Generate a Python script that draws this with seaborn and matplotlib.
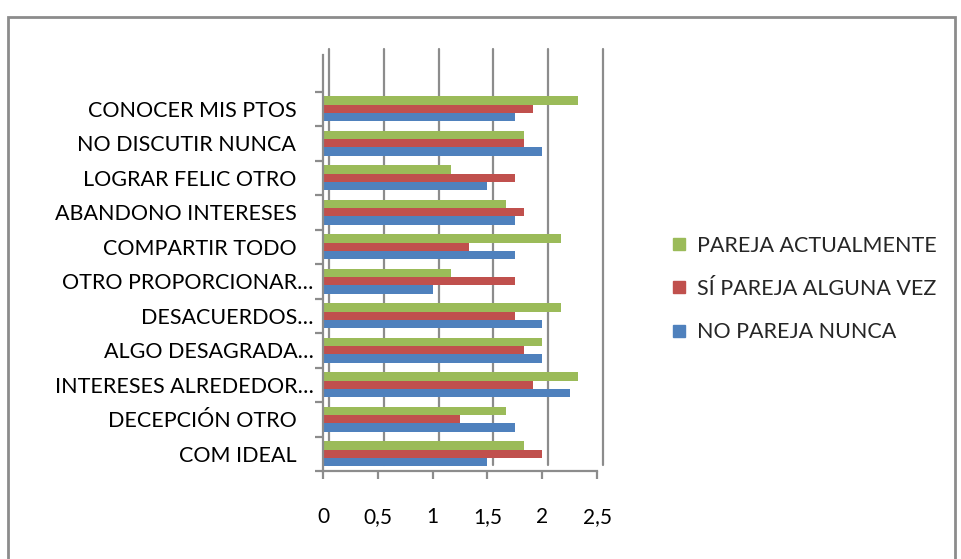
import matplotlib
matplotlib.use("Agg")
import matplotlib.pyplot as plt
import matplotlib.transforms as mtransforms
from matplotlib.patches import Rectangle
from matplotlib.lines import Line2D
import seaborn as sns
import pandas as pd

categories = ["CONOCER MIS PTOS", "NO DISCUTIR NUNCA", "LOGRAR FELIC OTRO",
              "ABANDONO INTERESES", "COMPARTIR TODO", "OTRO PROPORCIONAR…",
              "DESACUERDOS…", "ALGO DESAGRADA…", "INTERESES ALREDEDOR…",
              "DECEPCIÓN OTRO", "COM IDEAL"]
series = ["PAREJA ACTUALMENTE", "SÍ PAREJA ALGUNA VEZ", "NO PAREJA NUNCA"]
pareja_actualmente = [2.33, 1.83, 1.17, 1.67, 2.17, 1.17, 2.17, 2.0, 2.33, 1.67, 1.83]
si_pareja_alguna_vez = [1.92, 1.83, 1.75, 1.83, 1.33, 1.75, 1.75, 1.83, 1.92, 1.25, 2.0]
no_pareja_nunca = [1.75, 2.0, 1.5, 1.75, 1.75, 1.0, 2.0, 2.0, 2.25, 1.75, 1.5]
x_ticks = [0, 0.5, 1, 1.5, 2, 2.5]
x_ticklabels = ["0", "0,5", "1", "1,5", "2", "2,5"]
colors = ["#9BBB59", "#C0504D", "#4F81BD"]

rows = []
for s, vals in zip(series, [pareja_actualmente, si_pareja_alguna_vez, no_pareja_nunca]):
    for c, v in zip(categories, vals):
        rows.append({"cat": c, "serie": s, "val": v})
df = pd.DataFrame(rows)

sns.set_theme(style="white")
plt.rcParams['font.family'] = ['Lato', 'DejaVu Sans']

W, H = 961, 559
fig = plt.figure(figsize=(W / 100, H / 100), dpi=100)
fig.patch.set_facecolor("white")

def px(x0, y0, x1, y1):
    return [x0 / W, 1 - y1 / H, (x1 - x0) / W, (y1 - y0) / H]

ax = fig.add_axes(px(323, 55, 597, 471))
sns.barplot(data=df, y="cat", x="val", hue="serie", order=categories,
            hue_order=series, palette=colors, orient="h", width=0.72,
            saturation=1, ax=ax, legend=False, edgecolor="none")

ax.set_xlim(0, 2.5)
ax.set_ylim(len(categories) - 0.5, -1.56)
ax.set_xticks(x_ticks)
ax.set_xticklabels(x_ticklabels, fontsize=15)
ax.set_yticks(range(len(categories)))
ax.set_yticklabels(categories, fontsize=15.5)
ax.set_xlabel("")
ax.set_ylabel("")

# gridlines (back wall, offset 3D)
off = mtransforms.ScaledTranslation(6 / 100, 6 / 100, fig.dpi_scale_trans)
for xv in x_ticks:
    ax.plot([xv, xv], [len(categories) - 0.5, -1.56], color="#8c8c8c", lw=1.6,
            transform=ax.transData + off, zorder=0, clip_on=False)

for sp in ["top", "right"]:
    ax.spines[sp].set_visible(False)
for sp in ["left", "bottom"]:
    ax.spines[sp].set_color("#8c8c8c")
    ax.spines[sp].set_linewidth(1.6)

ax.tick_params(axis="y", which="major", left=False, length=0, pad=7)
ax.tick_params(axis="x", which="major", bottom=True, length=6, width=1.6,
               color="#8c8c8c", pad=20, direction="out")
ax.set_yticks([i + 0.5 for i in range(-1, len(categories))], minor=True)
ax.tick_params(axis="y", which="minor", left=True, length=6, width=1.6,
               color="#8c8c8c", direction="out")

# shift non-truncated labels left
shift = mtransforms.ScaledTranslation(-17 / 100, 0, fig.dpi_scale_trans)
for lab in ax.get_yticklabels():
    if not lab.get_text().endswith("…"):
        lab.set_transform(lab.get_transform() + shift)
    lab.set_color("black")
for lab in ax.get_xticklabels():
    lab.set_color("black")

handles = [Line2D([], [], marker="s", linestyle="none", markersize=9,
                  markerfacecolor=c, markeredgecolor=c) for c in colors]
fig.legend(handles, series, loc="upper left",
           bbox_to_anchor=(660 / W, 1 - 227 / H), frameon=False,
           fontsize=15.5, labelspacing=1.08, handletextpad=0.3,
           handlelength=1.0, borderaxespad=0)

# chart area frame
fig.add_artist(Rectangle((8 / W, -0.05), (955 - 8) / W, 1.05 - 17 / H,
                         transform=fig.transFigure, fill=False,
                         edgecolor="#8c8c8c", lw=2))

fig.savefig("out.png", dpi=100)
